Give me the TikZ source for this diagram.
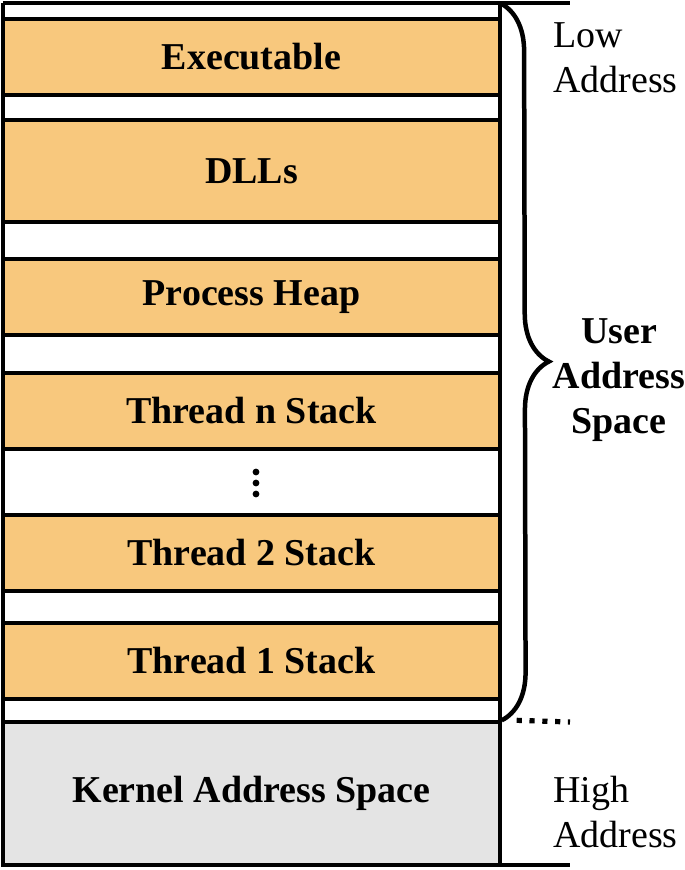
\documentclass[tikz,border=0pt]{standalone}
\usepackage{fontspec}
\setmainfont{Liberation Serif}
\usetikzlibrary{decorations.pathreplacing, positioning}

\definecolor{segorange}{RGB}{248,200,125}
\definecolor{kernelgray}{RGB}{228,228,228}

\tikzset{
  seg/.style={draw, line width=2.4pt, fill=segorange, minimum width=12.425cm,
    minimum height=1.9cm, inner sep=0pt, font=\fontsize{27}{30}\selectfont\bfseries},
  side/.style={align=left, anchor=west, inner sep=0pt,
    font=\fontsize{27}{32.5}\selectfont},
  frame/.style={line width=2.4pt},
}

\begin{document}
\begin{tikzpicture}
    \useasboundingbox (0,0) rectangle (17.125,-21.75);
    % memory segments
    \node[seg] (exe) at (6.2875,-1.425) {Executable};
    \node[seg, minimum height=2.55cm] (dll) at (6.2875,-4.275) {DLLs};
    \node[seg] (heap) at (6.2875,-7.425) {Process Heap};
    \node[seg] (tn) at (6.2875,-10.275) {Thread n Stack};
    \node[seg] (t2) at (6.2875,-13.825) {Thread 2 Stack};
    \node[seg] (t1) at (6.2875,-16.525) {Thread 1 Stack};
    \node[seg, fill=kernelgray, minimum height=3.575cm] (kernel) at (6.2875,-19.8375) {Kernel Address Space};
    \foreach \y in {-11.8,-12.075,-12.35}
        \fill (6.4,\y) circle (0.085);
    % outer frame
    \coordinate (tl) at (0.075,-0.075);
    \coordinate (tr) at (14.25,-0.075);
    \coordinate (bl) at (0.075,-21.625);
    \coordinate (br) at (14.25,-21.625);
    \coordinate (ut) at (12.5,-0.075);
    \coordinate (ub) at (12.5,-21.625);
    \coordinate (dotend) at (14.25,-18.05);
    \draw[frame] (tl) -- (tr);
    \draw[frame] (bl) -- (br);
    \draw[frame] (tl) -- (bl);
    \draw[frame] (ut) -- (ub);
    \draw[line width=3.2pt, decorate, decoration={brace, amplitude=1.2cm}] (ut) -- (kernel.north east);
    \draw[line width=0.13cm, dash pattern=on 0.13cm off 0.19cm] ([xshift=0.375cm]kernel.north east) -- (dotend);
    % labels
    \node[side] (low) at (13.825,-1.44) {Low\\Address};
    \node[side] (high) at (13.825,-20.3) {High\\Address};
    \node[align=center, inner sep=0pt, font=\fontsize{27}{32}\selectfont\bfseries] (user) at (15.475,-9.5) {User\\Address\\Space};
\end{tikzpicture}
\end{document}
